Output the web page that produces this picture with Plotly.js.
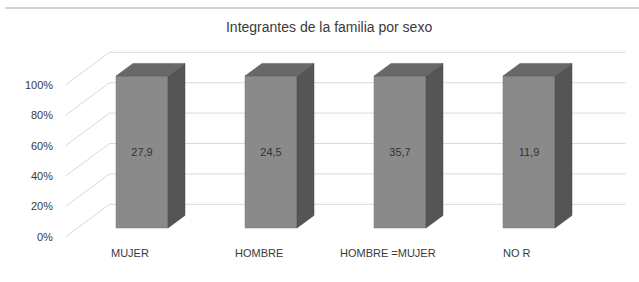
<!DOCTYPE html>
<html>
<head>
<meta charset="utf-8">
<script src="https://cdn.plot.ly/plotly-3.0.1.min.js"></script>
<style>html,body{margin:0;padding:0;background:#fff;}#chart{width:639px;height:282px;}</style>
</head>
<body>
<div id="chart"></div>
<script>
// ---- data ----
const categories = ["MUJER", "HOMBRE", "HOMBRE =MUJER", "NO R"];
const values = [27.9, 24.5, 35.7, 11.9];
const barHeights = [100, 100, 100, 100];   // 100% stacked single-series columns
const yTicks = [0, 20, 40, 60, 80, 100];
const yTickLabels = ["0%", "20%", "40%", "60%", "80%", "100%"];
const chartTitle = "Integrantes de la familia por sexo";

// ---- styling / pseudo-3D geometry (pixel based) ----
const W = 639, H = 282;
const pxPerX = 129, pxPerY = 1.52;
const xRange = [-142 / pxPerX, (W - 142) / pxPerX];
const yRange = [(228 - H) / pxPerY, 228 / pxPerY];
const slope = 0.74;               // vertical rise per horizontal depth pixel
const barWidth = 0.403;
const depthFront = -12, depthBarBack = 17, depthWall = 32;
function dX(d) { return d / pxPerX; }
function dY(d) { return slope * d / pxPerY; }
const frontCol = "#8a8a8a", sideCol = "#555555", topCol = "#686868";
const gridCol = "#d9d9d9", textCol = "#3a3a3a";

const xIdx = categories.map((c, i) => i);
const traces = [];

// side and top faces computed from the bar positions
xIdx.forEach((x, i) => {
  const x0 = x - barWidth / 2, x1 = x + barWidth / 2, h = barHeights[i];
  const bx = dX(depthBarBack), by = dY(depthBarBack);
  traces.push({
    type: "scatter", mode: "lines", fill: "toself", fillcolor: sideCol,
    line: {color: "#4a4a4a", width: 0.5}, hoverinfo: "skip", showlegend: false,
    x: [x1, x1, x1 + bx, x1 + bx, x1], y: [0, h, h + by, by, 0]
  });
  traces.push({
    type: "scatter", mode: "lines", fill: "toself", fillcolor: topCol,
    line: {color: "#5a5a5a", width: 0.5}, hoverinfo: "skip", showlegend: false,
    x: [x0, x1, x1 + bx, x0 + bx, x0], y: [h, h, h + by, h + by, h]
  });
});

// front faces
traces.push({
  type: "bar", x: xIdx, y: barHeights, width: barWidth,
  marker: {color: frontCol, line: {color: "#7a7a7a", width: 0.5}},
  text: values.map(v => v.toFixed(1).replace(".", ",")),
  textposition: "inside", insidetextanchor: "middle",
  textfont: {family: "Liberation Sans, Arial, sans-serif", size: 11, color: "#333333"},
  hoverinfo: "skip", showlegend: false
});

// gridlines: side wall diagonals + back wall horizontals
const shapes = [];
const leftEdge = -0.5, rightEdge = categories.length - 0.5;
yTicks.forEach(t => {
  shapes.push({type: "line", layer: "below", xref: "x", yref: "y",
    x0: leftEdge + dX(depthFront), y0: t + dY(depthFront),
    x1: leftEdge + dX(depthWall), y1: t + dY(depthWall),
    line: {color: gridCol, width: 1}});
  shapes.push({type: "line", layer: "below", xref: "x", yref: "y",
    x0: leftEdge + dX(depthWall), y0: t + dY(depthWall),
    x1: rightEdge + dX(depthWall), y1: t + dY(depthWall),
    line: {color: gridCol, width: 1}});
});
// top frame line (chart-area border)
shapes.push({type: "line", layer: "above", xref: "x", yref: "y",
  x0: xRange[0] + 5 / pxPerX, x1: xRange[1],
  y0: yRange[1] - 8 / pxPerY, y1: yRange[1] - 8 / pxPerY,
  line: {color: "#c4c4c4", width: 1.5}});

const annotations = [];
yTicks.forEach((t, k) => {
  annotations.push({xref: "x", yref: "y",
    x: leftEdge + dX(depthFront), y: t + dY(depthFront),
    text: yTickLabels[k], showarrow: false, xanchor: "right", yanchor: "middle",
    xshift: -11, font: {family: "Liberation Sans, Arial, sans-serif", size: 11, color: textCol}});
});
categories.forEach((c, i) => {
  annotations.push({xref: "x", yref: "y",
    x: i + dX(depthFront), y: dY(depthFront),
    text: c, showarrow: false, xanchor: "center", yanchor: "middle",
    yshift: -16, font: {family: "Liberation Sans, Arial, sans-serif", size: 11, color: textCol}});
});

const layout = {
  width: W, height: H,
  margin: {l: 0, r: 0, t: 0, b: 0},
  paper_bgcolor: "#ffffff", plot_bgcolor: "#ffffff",
  title: {text: chartTitle, x: 0.515, xanchor: "center", y: 1 - 27 / H, yanchor: "middle",
    font: {family: "Liberation Sans, Arial, sans-serif", size: 14, color: textCol}},
  xaxis: {range: xRange, visible: false, fixedrange: true},
  yaxis: {range: yRange, visible: false, fixedrange: true},
  barmode: "overlay",
  shapes: shapes, annotations: annotations, showlegend: false
};

Plotly.newPlot("chart", traces, layout, {staticPlot: true, displayModeBar: false});
</script>
</body>
</html>
